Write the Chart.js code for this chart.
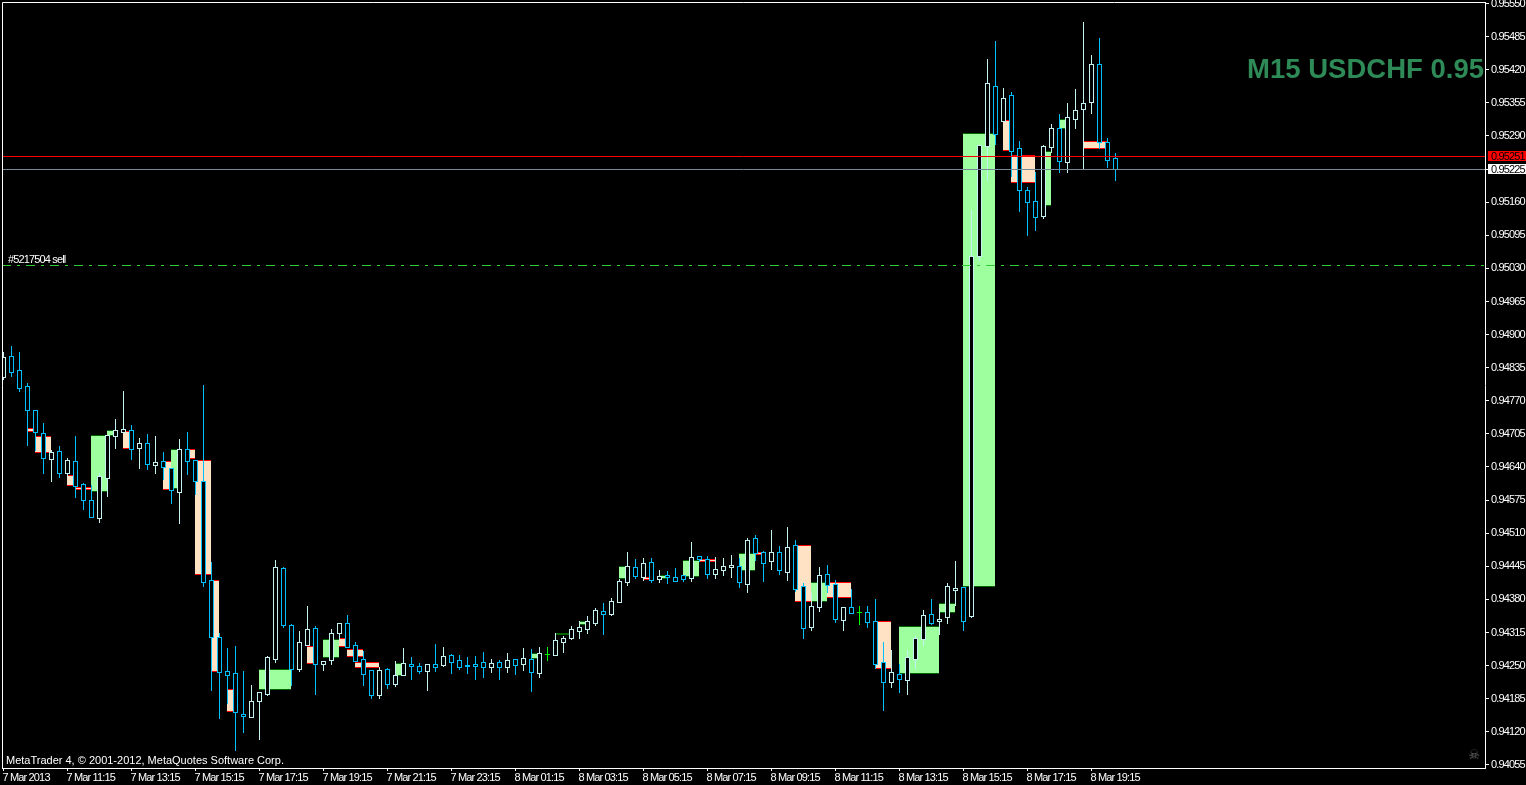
<!DOCTYPE html>
<html><head><meta charset="utf-8">
<style>html,body{margin:0;padding:0;background:#000}canvas{display:block}</style>
<script src="https://cdn.jsdelivr.net/npm/chart.js@4"></script>
</head><body>
<canvas id="c" width="1526" height="785"></canvas>
<script>
// M15 candles, in price; index 0 is 7 Mar 2013 09:15
const candleHigh=[.94866,.94878,.94866,.94805,.94752,.94727,.94674,.94682,.94658,.94701,.94609,.94605,.94629,.94703,.94735,.94789,.94723,.94697,.94705,.94701,
.94670,.94638,.94695,.94709,.94654,.94801,.94453,.94314,.94285,.94289,.94240,.94212,.94198,.94269,.94457,.94443,.94332,.94318,.94367,.94328,
.94259,.94322,.94334,.94350,.94296,.94279,.94242,.94248,.94246,.94259,.94285,.94267,.94255,.94253,.94293,.94287,.94273,.94271,.94267,.94269,
.94277,.94263,.94261,.94275,.94263,.94285,.94283,.94287,.94287,.94314,.94308,.94328,.94338,.94348,.94363,.94373,.94383,.94420,.94473,.94459,
.94461,.94461,.94438,.94436,.94441,.94428,.94493,.94465,.94465,.94463,.94461,.94467,.94461,.94501,.94506,.94475,.94516,.94485,.94522,.94497,
.94412,.94393,.94443,.94447,.94418,.94365,.94400,.94367,.94367,.94381,.94296,.94281,.94253,.94281,.94308,.94359,.94381,.94363,.94412,.94455,
.94404,.95145,.95272,.95441,.95477,.95384,.95376,.95280,.95190,.95219,.95272,.95313,.95333,.95355,.95382,.95514,.95449,.95482,.95286,.95257];
const candleLow=[.94813,.94819,.94789,.94684,.94674,.94629,.94613,.94621,.94623,.94582,.94557,.94542,.94532,.94584,.94678,.94709,.94656,.94638,.94637,.94629,
.94617,.94569,.94530,.94627,.94587,.94406,.94202,.94147,.94177,.94085,.94120,.94149,.94106,.94192,.94257,.94326,.94212,.94240,.94291,.94194,
.94242,.94253,.94302,.94287,.94259,.94212,.94187,.94187,.94206,.94210,.94232,.94224,.94236,.94202,.94240,.94249,.94236,.94243,.94236,.94224,
.94228,.94238,.94224,.94238,.94234,.94242,.94200,.94228,.94261,.94271,.94277,.94302,.94304,.94314,.94330,.94312,.94350,.94375,.94408,.94422,
.94418,.94414,.94414,.94412,.94416,.94416,.94416,.94455,.94422,.94422,.94428,.94424,.94404,.94395,.94457,.94416,.94440,.94430,.94418,.94397,
.94304,.94320,.94357,.94395,.94336,.94320,.94353,.94332,.94326,.94246,.94163,.94208,.94198,.94194,.94246,.94291,.94332,.94312,.94334,.94369,
.94320,.94346,.95047,.95204,.95274,.95319,.95211,.95143,.95096,.95106,.95129,.95259,.95219,.95219,.95306,.95225,.95335,.95266,.95229,.95204];
const candleOpen=[.94817,.94858,.94831,.94799,.94752,.94707,.94656,.94672,.94629,.94652,.94607,.94575,.94540,.94619,.94701,.94709,.94713,.94678,.94688,.94644,
.94652,.94638,.94591,.94676,.94654,.94613,.94418,.94306,.94240,.94236,.94155,.94149,.94181,.94194,.94263,.94441,.94330,.94243,.94291,.94324,
.94253,.94261,.94314,.94334,.94291,.94263,.94242,.94192,.94243,.94214,.94232,.94253,.94249,.94240,.94253,.94251,.94271,.94261,.94251,.94253,
.94257,.94248,.94257,.94248,.94263,.94253,.94263,.94236,.94273,.94271,.94296,.94304,.94318,.94322,.94334,.94357,.94351,.94375,.94414,.94443,
.94424,.94453,.94420,.94428,.94424,.94428,.94422,.94465,.94459,.94430,.94438,.94443,.94445,.94410,.94501,.94473,.94455,.94473,.94434,.94487,
.94406,.94326,.94365,.94430,.94410,.94340,.94365,.94355,.94355,.94338,.94257,.94218,.94234,.94222,.94263,.94302,.94351,.94338,.94346,.94398,
.94404,.94348,.95054,.95270,.95388,.95319,.95370,.95266,.95184,.95162,.95133,.95268,.95306,.95239,.95323,.95343,.95357,.95431,.95278,.95247];
const candleClose=[.94856,.94827,.94795,.94752,.94709,.94658,.94670,.94629,.94654,.94603,.94575,.94542,.94623,.94703,.94713,.94715,.94676,.94688,.94646,.94650,
.94640,.94595,.94676,.94652,.94613,.94414,.94306,.94238,.94232,.94159,.94151,.94181,.94198,.94267,.94443,.94330,.94243,.94296,.94322,.94253,
.94259,.94314,.94334,.94287,.94259,.94234,.94192,.94242,.94214,.94232,.94255,.94249,.94240,.94253,.94248,.94269,.94257,.94248,.94249,.94249,
.94248,.94255,.94248,.94261,.94251,.94265,.94238,.94275,.94273,.94300,.94304,.94322,.94326,.94338,.94359,.94351,.94377,.94416,.94445,.94426,
.94451,.94418,.94426,.94424,.94416,.94420,.94463,.94459,.94430,.94440,.94445,.94447,.94414,.94497,.94471,.94451,.94473,.94438,.94483,.94400,
.94324,.94367,.94428,.94408,.94342,.94365,.94353,.94355,.94336,.94253,.94218,.94238,.94224,.94267,.94304,.94350,.94334,.94342,.94406,.94402,
.94338,.95054,.95272,.95394,.95294,.95365,.95261,.95184,.95160,.95131,.95270,.95306,.95241,.95327,.95341,.95355,.95431,.95278,.95243,.95225];
// Higher-level blocks: from candle to candle, low/high price
const zoneFrom=[3,4,8,9,11,13,15,20,21,23,24,26,28,32,38,40,42,43,44,49,66,69,72,77,80,82,85,87,92,94,99,101,103,109,112,117,120,125,126,130,132,135];
const zoneTo=[4,6,9,11,13,14,16,21,22,24,26,27,29,36,39,42,43,45,47,50,67,71,73,78,81,83,87,89,94,95,101,103,106,111,117,119,124,126,129,131,133,138];
const zoneHigh=[.94717,.94701,.94625,.94601,.94703,.94713,.94711,.94652,.94676,.94676,.94654,.94418,.94204,.94243,.94289,.94302,.94304,.94283,.94257,.94255,.94275,.94314,.94338,.94445,.94424,.94428,.94457,.94459,.94471,.94473,.94487,.94414,.94414,.94338,.94328,.94373,.95296,.95321,.95252,.95261,.95323,.95280];
const zoneLow=[.94709,.94668,.94603,.94595,.94591,.94701,.94676,.94595,.94597,.94656,.94428,.94238,.94159,.94202,.94253,.94265,.94287,.94267,.94246,.94230,.94263,.94310,.94330,.94420,.94418,.94420,.94424,.94453,.94436,.94467,.94375,.94375,.94383,.94243,.94234,.94353,.94404,.95261,.95198,.95153,.95304,.95264];
const zoneBull=[0,0,0,0,1,1,0,0,1,0,0,0,0,1,0,1,0,0,0,1,1,1,1,1,0,1,1,0,1,0,0,1,0,0,1,1,1,0,0,1,1,0];
const priceTicks=[.9555,.95485,.9542,.95355,.9529,.95225,.9516,.95095,.9503,.94965,.949,.94835,.9477,.94705,.9464,.94575,.9451,.94445,.9438,.94315,.9425,.94185,.9412,.94055];
const timeTickCandles=[0,8,16,24,32,40,48,56,64,72,80,88,96,104,112,120,128,136];
const timeTickLabels=["7 Mar 2013","7 Mar 11:15","7 Mar 13:15","7 Mar 15:15","7 Mar 17:15","7 Mar 19:15","7 Mar 21:15","7 Mar 23:15","8 Mar 01:15","8 Mar 03:15","8 Mar 05:15","8 Mar 07:15","8 Mar 09:15","8 Mar 11:15","8 Mar 13:15","8 Mar 15:15","8 Mar 17:15","8 Mar 19:15"];
const bidPrice=.95225, askPrice=.95251, orderPrice=.95036;
const orderLabel="#5217504 sell", titleText="M15 USDCHF 0.95", creditText="MetaTrader 4, \u00a9 2001-2012, MetaQuotes Software Corp.";

const UP='#c4f2f2',DOWN='#00bfff',FLAT='#00ff00',SMALL='11px "Liberation Sans",sans-serif',TIGHT='-0.85px';
const dirColor=i=>candleClose[i]===candleOpen[i]?FLAT:candleClose[i]>candleOpen[i]?UP:DOWN;
const X_MIN=-0.1875,X_MAX=185.1875;

const zoneData=[],zoneFill=[],zoneEdge=[];
zoneFrom.forEach((s,z)=>{for(let k=s;k<zoneTo[z];k++){
  zoneData.push({x:k+0.5,y:[zoneLow[z],zoneHigh[z]]});
  zoneFill.push(zoneBull[z]?'#9dff9d':'#ffe2c4');
  zoneEdge.push(zoneBull[z]?'#006400':'#ff0000');
}});
const wickData=candleHigh.map((h,i)=>({x:i,y:[candleLow[i],h]}));
const bodyData=candleOpen.map((o,i)=>({x:i,y:[Math.min(o,candleClose[i]),Math.max(o,candleClose[i])]}));
const colors=candleOpen.map((_,i)=>dirColor(i));
const bodyFill=candleOpen.map((_,i)=>dirColor(i)===FLAT?FLAT:'#000');
const bar={type:'bar',grouped:false,borderSkipped:false,inflateAmount:0};
const hline=(v,c,dash)=>({type:'line',order:1,data:[{x:X_MIN,y:v},{x:X_MAX,y:v}],borderColor:c,borderWidth:1,borderDash:dash||[],pointRadius:0,tension:0,snapLine:true});

const snap={id:'snap',afterDatasetsUpdate(chart){
  chart.data.datasets.forEach((ds,di)=>{
    chart.getDatasetMeta(di).data.forEach(el=>{
      if(ds.snapLine){el.y=Math.round(el.y)+0.5;return;}
      let t=Math.round(Math.min(el.y,el.base)),b=Math.round(Math.max(el.y,el.base));
      if(ds.snapCandle)b+=1;
      if(b<=t)b=t+1;
      el.y=t;el.base=b;el.height=b-t;
      if(el.width%2===0)el.x=Math.floor(el.x);
    });
  });
}};
const extras={id:'extras',beforeDraw(chart){chart.ctx.letterSpacing=TIGHT;},afterDraw(chart){
  const c=chart.ctx,a=chart.chartArea,ys=chart.scales.y;
  c.save();
  c.strokeStyle='#fff';c.lineWidth=1;
  c.beginPath();c.moveTo(a.left+.5,a.bottom);c.lineTo(a.left+.5,a.top+.5);c.lineTo(a.right,a.top+.5);c.stroke();
  c.textBaseline='alphabetic';c.textAlign='left';c.font=SMALL;
  const tag=(p,bg,fg)=>{const y=Math.round(ys.getPixelForValue(p));
    c.fillStyle=bg;c.fillRect(a.right+3,y-5,1526-a.right-3,10);
    c.fillStyle=fg;c.fillText(p.toFixed(5),a.right+6,y+4);};
  tag(askPrice,'#ff0000','#000');
  tag(bidPrice,'#ffffff','#000');
  c.fillStyle='#fff';
  c.fillText(orderLabel,8,263);
  c.letterSpacing='0px';
  c.fillText(creditText,6,764);
  c.fillStyle='#2e8b57';c.font='bold 27.5px "Liberation Sans",Arial,sans-serif';c.textAlign='right';
  c.fillText(titleText,1484,78);
  c.fillStyle='#6a6a6a';c.font='13px "DejaVu Sans"';c.textAlign='center';
  c.fillText('\u2620',1474,759);
  c.restore();
}};
new Chart(document.getElementById('c'),{
  type:'bar',
  data:{datasets:[
    hline(askPrice,'#ff0000'),
    hline(bidPrice,'#778899'),
    hline(orderPrice,'#32cd32',[9,6,3,6]),
    {...bar,order:3,barThickness:5,data:bodyData,backgroundColor:bodyFill,borderColor:colors,borderWidth:1,snapCandle:true},
    {...bar,order:4,barThickness:1,data:wickData,backgroundColor:colors,borderWidth:0,snapCandle:true},
    {...bar,order:5,barThickness:8,data:zoneData,backgroundColor:zoneFill,borderColor:zoneEdge,borderWidth:{top:1,bottom:1,left:0,right:0}}
  ]},
  options:{
    responsive:false,animation:false,events:[],
    layout:{autoPadding:false,padding:{left:2,top:2,right:0,bottom:0}},
    plugins:{legend:{display:false},tooltip:{enabled:false},title:{display:false}},
    scales:{
      x:{type:'linear',offset:false,min:X_MIN,max:X_MAX,
        afterBuildTicks:s=>{s.ticks=timeTickCandles.map(v=>({value:v}));},
        afterFit:s=>{s.height=17;s.paddingLeft=0;s.paddingRight=0;},
        grid:{offset:false,drawOnChartArea:false,tickLength:3,tickColor:'#fff'},
        border:{color:'#fff',width:1},
        ticks:{autoSkip:false,maxRotation:0,minRotation:0,align:'start',labelOffset:-1,padding:0,color:'#fff',font:{family:'"Liberation Sans",sans-serif',size:11},
          callback:(v)=>timeTickLabels[timeTickCandles.indexOf(v)]}},
      y:{type:'linear',position:'right',min:.94049,max:.95553,
        afterBuildTicks:s=>{s.ticks=priceTicks.map(v=>({value:v}));},
        afterFit:s=>{s.width=41;s.paddingTop=0;s.paddingBottom=0;},
        grid:{drawOnChartArea:false,tickLength:4,tickColor:'#fff'},
        border:{color:'#fff',width:1},
        ticks:{autoSkip:false,padding:2,color:'#fff',font:{family:'"Liberation Sans",sans-serif',size:11},
          callback:v=>v.toFixed(5)}}
    }
  },
  plugins:[snap,extras]
});
</script>
</body></html>
